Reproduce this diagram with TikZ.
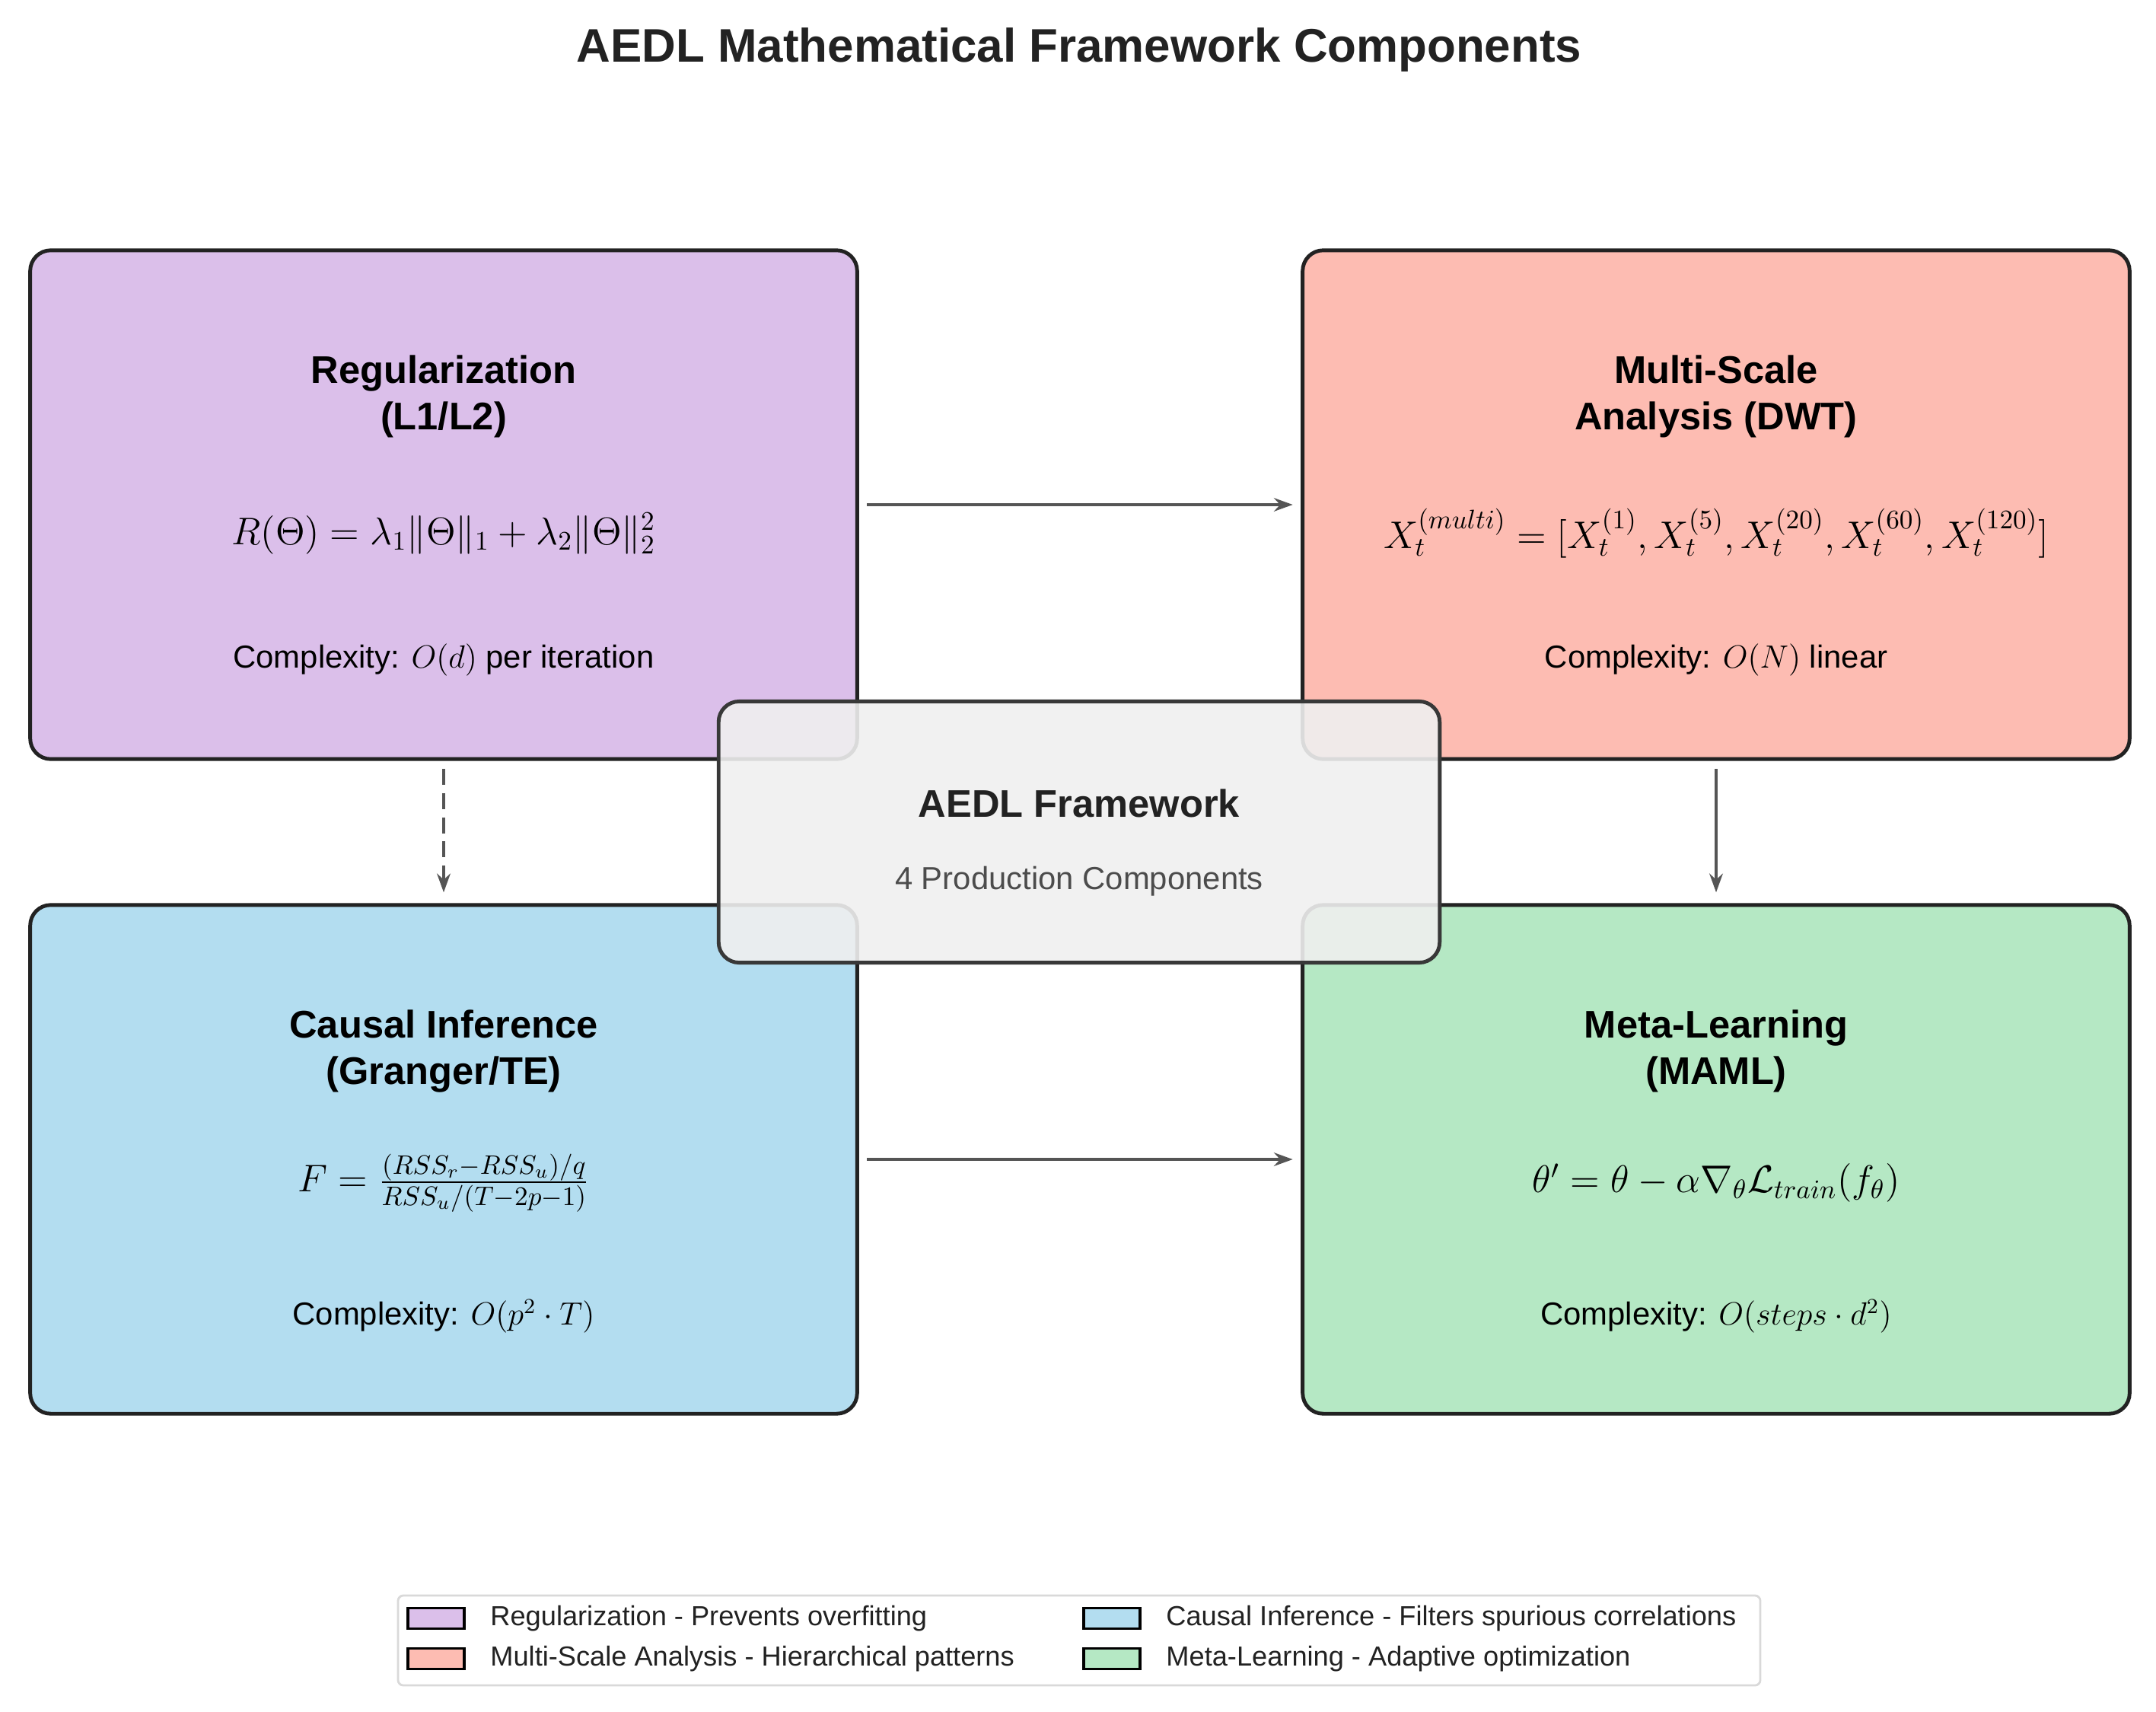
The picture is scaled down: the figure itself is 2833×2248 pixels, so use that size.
\documentclass[tikz,border=0pt]{standalone}
\usepackage{fontspec}
\setmainfont{Liberation Sans}
\usetikzlibrary{arrows.meta}
\definecolor{cReg}{HTML}{DBBFEA}
\definecolor{cMulti}{HTML}{FDBCB2}
\definecolor{cCausal}{HTML}{B3DDF0}
\definecolor{cMeta}{HTML}{B5E8C4}
\definecolor{cCenter}{HTML}{EFEFEF}
\definecolor{cEdge}{HTML}{222222}
\definecolor{cArrow}{HTML}{555555}
\newcommand\fsz[2]{\fontsize{#1}{#2}\selectfont}
\tikzset{
    comp/.style = {draw=cEdge, line width=1.4pt, rounded corners=0.27cm,
        minimum width=10.86cm, minimum height=6.68cm, inner sep=0pt},
    ttl/.style = {font=\fsz{14.4}{17.5}\bfseries, align=center},
    frm/.style = {font=\fsz{14.5}{17}},
    cplx/.style = {font=\fsz{11.9}{14}},
    flow/.style = {draw=cArrow, line width=1.3pt, -{Stealth[length=7pt,width=5pt]}},
    patch/.style = {draw=black, line width=0.9pt, minimum width=0.74cm, minimum height=0.27cm, inner sep=0pt},
    lgd/.style = {font=\fsz{10.3}{12}, anchor=west, text=cEdge},
}
\begin{document}
\begin{tikzpicture}[x=0.01cm, y=-0.01cm]
    \useasboundingbox (0,0) rectangle (2833,2248);
    \node[font=\fsz{17.6}{20}\bfseries, text=cEdge] (title) at (1418,65) {AEDL Mathematical Framework Components};

    % Component boxes
    \node[comp, fill=cReg] (reg) at (583,663) {};
    \node[comp, fill=cMulti] (multi) at (2255,663) {};
    \node[comp, fill=cCausal] (causal) at (583,1523) {};
    \node[comp, fill=cMeta] (meta) at (2255,1523) {};

    % Box texts
    \node[ttl] (regT) at (583,521) {Regularization\\(L1/L2)};
    \node[frm] (regF) at (583,701) {$R(\Theta) = \lambda_1 \|\Theta\|_1 + \lambda_2 \|\Theta\|_2^2$};
    \node[cplx] (regC) at (583,867) {Complexity: $O(d)$ per iteration};

    \node[ttl] (multiT) at (2255,521) {Multi-Scale\\Analysis (DWT)};
    \node[frm] (multiF) at (2255,701) {$X_t^{(multi)} = [X_t^{(1)}, X_t^{(5)}, X_t^{(20)}, X_t^{(60)}, X_t^{(120)}]$};
    \node[cplx] (multiC) at (2255,867) {Complexity: $O(N)$ linear};

    \node[ttl] (causalT) at (583,1381) {Causal Inference\\(Granger/TE)};
    \node[frm] (causalF) at (583,1554) {$F = \frac{(RSS_r - RSS_u)/q}{RSS_u/(T-2p-1)}$};
    \node[cplx] (causalC) at (583,1729) {Complexity: $O(p^2 \cdot T)$};

    \node[ttl] (metaT) at (2255,1381) {Meta-Learning\\(MAML)};
    \node[frm] (metaF) at (2255,1554) {$\theta' = \theta - \alpha \nabla_\theta \mathcal{L}_{train}(f_\theta)$};
    \node[cplx] (metaC) at (2255,1729) {Complexity: $O(steps \cdot d^2)$};

    % Connections
    \draw[flow, shorten <=3pt, shorten >=3pt] (reg.east) -- (multi.west);
    \draw[flow, shorten <=3pt, shorten >=3pt] (causal.east) -- (meta.west);
    \draw[flow, dashed, dash pattern=on 6pt off 3pt, shorten <=3pt, shorten >=4pt] (reg.south) -- (causal.north);
    \draw[flow, shorten <=3pt, shorten >=4pt] (multi.south) -- (meta.north);

    % Central node
    \node[draw=cEdge!90!white, line width=1.4pt, rounded corners=0.27cm, fill=cCenter, fill opacity=0.9,
        minimum width=9.47cm, minimum height=3.43cm] (center) at (1418,1093) {};
    \node[font=\fsz{14.4}{17}\bfseries, text=cEdge] (centerT) at (1418,1055) {AEDL Framework};
    \node[font=\fsz{11.9}{14}, text=black!70] (centerS) at (1418,1158) {4 Production Components};

    % Legend
    \node[draw=black!15, line width=0.8pt, rounded corners=2pt, fill=white,
        minimum width=17.89cm, minimum height=1.18cm, inner sep=0pt] (legend) at (1418,2155) {};
    \node[patch, fill=cReg] (p1) at (573,2126) {};
    \node[lgd] (l1) at (632,2126) {Regularization - Prevents overfitting};
    \node[patch, fill=cMulti] (p2) at (573,2179) {};
    \node[lgd] (l2) at (632,2179) {Multi-Scale Analysis - Hierarchical patterns};
    \node[patch, fill=cCausal] (p3) at (1461,2126) {};
    \node[lgd] (l3) at (1520,2126) {Causal Inference - Filters spurious correlations};
    \node[patch, fill=cMeta] (p4) at (1461,2179) {};
    \node[lgd] (l4) at (1520,2179) {Meta-Learning - Adaptive optimization};
\end{tikzpicture}
\end{document}
